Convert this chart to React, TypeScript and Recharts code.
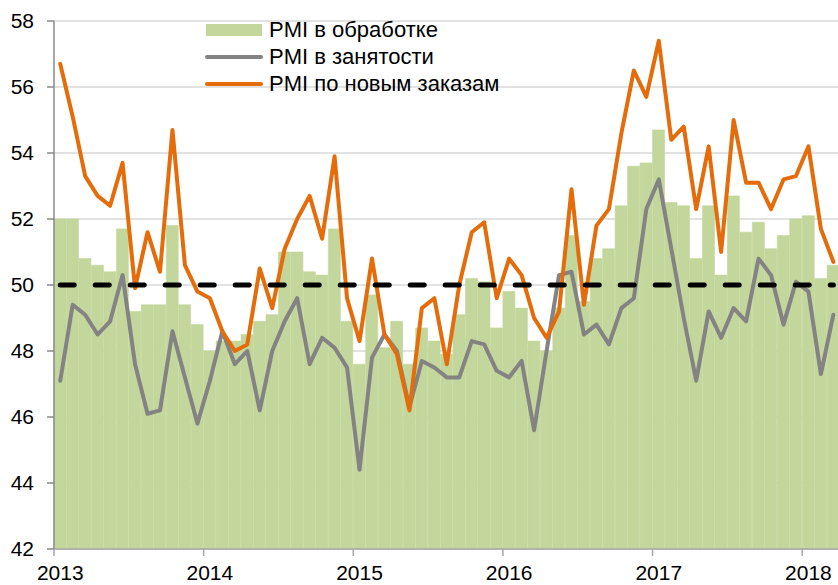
import React from 'react';
import {
  ComposedChart,
  Bar,
  Line,
  XAxis,
  YAxis,
  CartesianGrid,
  ReferenceLine,
  Legend,
} from 'recharts';

// ---------- data ----------
const YEARS = ['2013', '2014', '2015', '2016', '2017', '2018'];
const MONTHS = ['01', '02', '03', '04', '05', '06', '07', '08', '09', '10', '11', '12'];
const LAST_YEAR_MONTHS = 3;

const CATEGORIES: string[] = [];
YEARS.forEach((y, yi) => {
  const n = yi === YEARS.length - 1 ? LAST_YEAR_MONTHS : 12;
  for (let m = 0; m < n; m++) CATEGORIES.push(`${y}-${MONTHS[m]}`);
});

// PMI в обработке (bars)
const PROCESSING = [
  52.0, 52.0, 50.8, 50.6, 50.4, 51.7, 49.2, 49.4, 49.4, 51.8, 49.4, 48.8,
  48.0, 48.3, 48.3, 48.5, 48.9, 49.1, 51.0, 51.0, 50.4, 50.3, 51.7, 48.9,
  47.6, 49.7, 48.1, 48.9, 47.6, 48.7, 48.3, 47.9, 49.1, 50.2, 50.1, 48.7,
  49.8, 49.3, 48.3, 48.0, 49.3, 51.5, 49.5, 50.8, 51.1, 52.4, 53.6, 53.7,
  54.7, 52.5, 52.4, 50.8, 52.4, 50.3, 52.7, 51.6, 51.9, 51.1, 51.5, 52.0,
  52.1, 50.2, 50.6,
];

// PMI в занятости (gray line)
const EMPLOYMENT = [
  47.1, 49.4, 49.1, 48.5, 48.9, 50.3, 47.6, 46.1, 46.2, 48.6, 47.2, 45.8,
  47.1, 48.6, 47.6, 48.0, 46.2, 48.0, 48.9, 49.6, 47.6, 48.4, 48.1, 47.5,
  44.4, 47.8, 48.5, 48.0, 46.3, 47.7, 47.5, 47.2, 47.2, 48.3, 48.2, 47.4,
  47.2, 47.7, 45.6, 48.0, 50.3, 50.4, 48.5, 48.8, 48.2, 49.3, 49.6, 52.3,
  53.2, 51.1, 49.0, 47.1, 49.2, 48.4, 49.3, 48.9, 50.8, 50.3, 48.8, 50.1,
  49.8, 47.3, 49.1,
];

// PMI по новым заказам (orange line)
const NEW_ORDERS = [
  56.7, 55.1, 53.3, 52.7, 52.4, 53.7, 49.9, 51.6, 50.4, 54.7, 50.6, 49.8,
  49.6, 48.6, 48.0, 48.2, 50.5, 49.3, 51.1, 52.0, 52.7, 51.4, 53.9, 49.6,
  48.3, 50.8, 48.5, 47.9, 46.2, 49.3, 49.6, 47.6, 50.0, 51.6, 51.9, 49.6,
  50.8, 50.3, 49.0, 48.4, 49.2, 52.9, 49.4, 51.8, 52.3, 54.6, 56.5, 55.7,
  57.4, 54.4, 54.8, 52.3, 54.2, 51.0, 55.0, 53.1, 53.1, 52.3, 53.2, 53.3,
  54.2, 51.7, 50.7,
];

const THRESHOLD = 50;
const Y_TICKS = [42, 44, 46, 48, 50, 52, 54, 56, 58];

const SERIES_NAMES = ['PMI в обработке', 'PMI в занятости', 'PMI по новым заказам'];

const data = CATEGORIES.map((m, i) => ({
  month: m,
  processing: PROCESSING[i],
  employment: EMPLOYMENT[i],
  orders: NEW_ORDERS[i],
}));

// ---------- styles ----------
const FONT = 'Arial, "Liberation Sans", sans-serif';
const GREEN = '#C3D69B';
const GRAY = '#838383';
const ORANGE = '#E46C0A';
const LEFT = 54;
const BAND = 12.47;
const PLOT_W = BAND * CATEGORIES.length;
const RIGHT_MARGIN = 10;
const CHART_W = LEFT + PLOT_W + RIGHT_MARGIN;
const CHART_H = 600;

const YearTick = (props: any) => {
  const { x, y, payload } = props;
  const [yr, mo] = String(payload.value).split('-');
  if (mo !== '01') return <g />;
  const bx = x - BAND / 2;
  return (
    <g>
      <line x1={bx} x2={bx} y1={y} y2={y + 7} stroke="#a6a6a6" strokeWidth={1.5} />
      <text x={x} y={y + 31} textAnchor="middle" fontSize={21} fontFamily={FONT} fill="#000">
        {yr}
      </text>
    </g>
  );
};

const LegendContent = () => {
  const items = [
    { name: SERIES_NAMES[0], kind: 'rect', color: GREEN },
    { name: SERIES_NAMES[1], kind: 'line', color: GRAY },
    { name: SERIES_NAMES[2], kind: 'line', color: ORANGE },
  ];
  return (
    <div style={{ fontFamily: FONT, fontSize: 22, color: '#000' }}>
      {items.map((it) => (
        <div key={it.name} style={{ display: 'flex', alignItems: 'center', height: 27 }}>
          <svg width={60} height={14} style={{ marginRight: 4 }}>
            {it.kind === 'rect' ? (
              <rect x={1} y={1} width={56} height={12} fill={it.color} />
            ) : (
              <line x1={2} x2={56} y1={7} y2={7} stroke={it.color} strokeWidth={4} strokeLinecap="round" />
            )}
          </svg>
          <span style={{ whiteSpace: 'nowrap', lineHeight: '27px' }}>{it.name}</span>
        </div>
      ))}
    </div>
  );
};

export default function App() {
  return (
    <div
      style={{
        position: 'absolute',
        left: 0,
        top: 0,
        width: 838,
        height: 585,
        overflow: 'hidden',
        background: '#fff',
      }}
    >
      <ComposedChart
        width={CHART_W}
        height={CHART_H}
        data={data}
        margin={{ top: 21, right: RIGHT_MARGIN, bottom: 0, left: 0 }}
        barCategoryGap={0}
        barGap={0}
      >
        <CartesianGrid horizontal vertical={false} stroke="#d9d9d9" strokeWidth={1.5} />
        <XAxis
          dataKey="month"
          type="category"
          interval={0}
          height={51}
          tickSize={0}
          tickMargin={0}
          tickLine={false}
          axisLine={{ stroke: '#a6a6a6', strokeWidth: 1.5 }}
          tick={<YearTick />}
        />
        <YAxis
          domain={[42, 58]}
          ticks={Y_TICKS}
          interval={0}
          allowDataOverflow
          width={LEFT}
          tickSize={7}
          tickMargin={13}
          axisLine={{ stroke: '#898989', strokeWidth: 1.5 }}
          tickLine={{ stroke: '#898989', strokeWidth: 1.5 }}
          tick={{ fontSize: 21, fill: '#000', fontFamily: FONT }}
        />
        <Bar
          dataKey="processing"
          name={SERIES_NAMES[0]}
          fill={GREEN}
          stroke={GREEN}
          strokeWidth={0.6}
          isAnimationActive={false}
        />
        <Line
          type="linear"
          dataKey="employment"
          name={SERIES_NAMES[1]}
          stroke={GRAY}
          strokeWidth={4}
          strokeLinejoin="round"
          strokeLinecap="round"
          dot={false}
          activeDot={false}
          isAnimationActive={false}
        />
        <Line
          type="linear"
          dataKey="orders"
          name={SERIES_NAMES[2]}
          stroke={ORANGE}
          strokeWidth={4}
          strokeLinejoin="round"
          strokeLinecap="round"
          dot={false}
          activeDot={false}
          isAnimationActive={false}
        />
        <ReferenceLine
          segment={[
            { x: CATEGORIES[0], y: THRESHOLD },
            { x: CATEGORIES[CATEGORIES.length - 1], y: THRESHOLD },
          ]}
          stroke="#000"
          strokeWidth={5}
          strokeDasharray="14 21"
          strokeLinecap="round"
        />
        <Legend
          layout="vertical"
          align="center"
          verticalAlign="middle"
          content={<LegendContent />}
          wrapperStyle={{ left: 205, top: 16, width: 360, height: 85 }}
        />
      </ComposedChart>
    </div>
  );
}
